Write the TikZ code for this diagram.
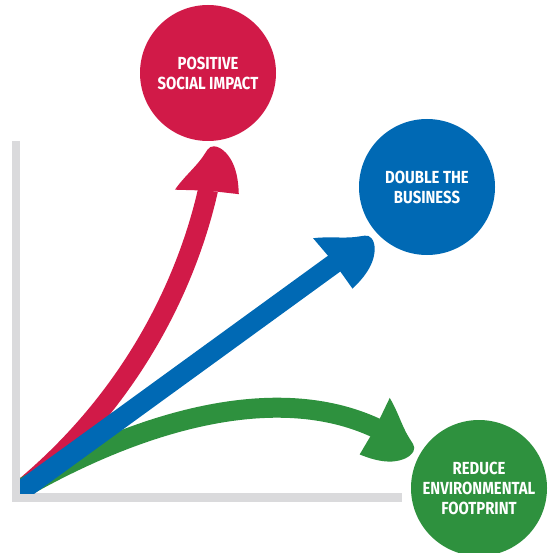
\documentclass[tikz,border=0pt]{standalone}
\usepackage{fontspec}
\newfontfamily\labelfont{Fira Sans}[FakeStretch=0.85]
\definecolor{cred}{HTML}{D11A48}
\definecolor{cblue}{HTML}{0069B4}
\definecolor{cgreen}{HTML}{2E913E}
\definecolor{cgray}{HTML}{DADADC}
\tikzset{
  goal/.style={circle, minimum size=136pt, inner sep=0pt, fill=#1, text=white,
    font=\labelfont\bfseries\fontsize{17.5}{20}\selectfont, align=center},
  stem/.style={line width=20pt, draw=#1, line cap=butt},
  axisbar/.style={fill=cgray},
  arrowhead/.pic={
    \fill[pic actions] (-1,-9) -- (-2,-33)
      .. controls (10,-26) and (22,-14) .. (32,-8)
      .. controls (38,-4) and (44,-3) .. (44,3)
      .. controls (44,10) and (38,17) .. (30,22)
      .. controls (20,28) and (8,30) .. (-2,31) -- (-1,9) -- cycle;
  }
}
\begin{document}
\begin{tikzpicture}[x=1pt,y=-1pt]
\useasboundingbox (0,0) rectangle (547,553);
% axes
\fill[axisbar] (12,141) rectangle (20,502);
\fill[axisbar] (12,493) rectangle (402,502);
% goals
\node[goal=cred]   (social) at (208,73)  {POSITIVE\\SOCIAL IMPACT};
\node[goal=cblue]  (business) at (427,187) {DOUBLE THE\\BUSINESS};
\node[goal=cgreen] (footprint) at (479,488) {REDUCE\\ENVIRONMENTAL\\FOOTPRINT};
% connector ends
\coordinate (or) at (14,496);
\coordinate (ob) at (8,500.5);
\coordinate (og) at (16,492);
\coordinate (hr) at (208,190);
\coordinate (hb) at (335,263);
\coordinate (hg) at (376,428);
% stems
\begin{scope}
\clip (20,0) rectangle (547,493);
\draw[stem=cred] (or) .. controls (140,395) and (190,270) .. (hr);
\draw[stem=cgreen] (og) .. controls (140,420) and (276,381.5) .. (hg);
\draw[stem=cblue] (ob) -- (hb);
\end{scope}
% heads
\pic[rotate=86, fill=cred] at (hr) {arrowhead};
\pic[rotate=-28, fill=cgreen] at (hg) {arrowhead};
\pic[rotate=38, fill=cblue] at (hb) {arrowhead};
\end{tikzpicture}
\end{document}
